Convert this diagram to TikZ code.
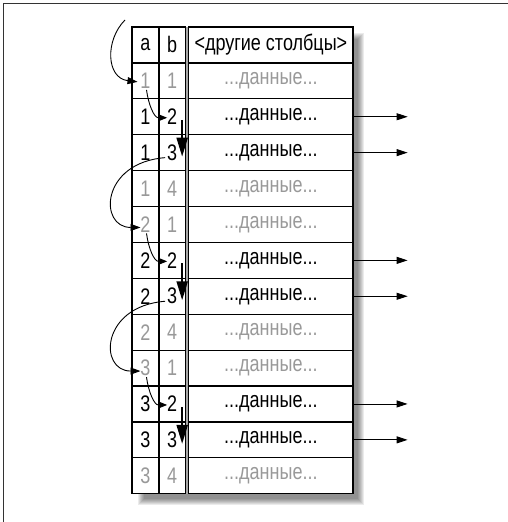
\documentclass[tikz,border=0pt]{standalone}
\usepackage{fontspec}
\setmainfont{Liberation Sans}[FakeStretch=0.8]
\usetikzlibrary{arrows.meta,calc}
\definecolor{dimgrey}{gray}{0.6}
\begin{document}
\begin{tikzpicture}[x=1pt,y=-1pt,
  cell/.style={draw, fill=white, line width=1.2pt, minimum height=35.9pt, inner sep=0pt,
    font=\fontsize{22.5}{24}\selectfont, anchor=center},
  acell/.style={cell, minimum width=27pt},
  bcell/.style={cell, minimum width=26.3pt},
  ocell/.style={cell, minimum width=164.3pt},
  outarrow/.style={line width=0.9pt, -{Triangle[length=11pt,width=7pt]}},
  downarrow/.style={line width=2.2pt, -{Triangle[length=19pt,width=11pt]}},
  smallcurve/.style={line width=0.9pt, -{Triangle[length=9pt,width=7pt]}},
  bigcurve/.style={line width=0.9pt, -{Triangle[length=10pt,width=7pt]}},
  frameline/.style={line width=1.8pt, black!80}]
\useasboundingbox (0,0) rectangle (508,522);
% frame (top and left)
\draw[frameline] (3.5,522) -- (3.5,3.5) -- (508,3.5);
% shadow
\foreach \k in {0,...,6}{
  \fill[black, opacity=0.08] (138+\k,33+\k) rectangle (364-\k,505-\k);
}
\fill[white] (132,27) rectangle (353,494);
\fill[black!35] (185.3,27) rectangle (188.7,494);
% header
\node[acell] (ah) at (145.5,44.95) {a};
\node[bcell] (bh) at (172.15,44.95) {b};
\node[ocell] (oh) at (270.85,44.95) {<другие столбцы>};
% rows
\foreach \i/\a/\b/\c in {1/1/1/dimgrey, 2/1/2/black, 3/1/3/black, 4/1/4/dimgrey,
  5/2/1/dimgrey, 6/2/2/black, 7/2/3/black, 8/2/4/dimgrey,
  9/3/1/dimgrey, 10/3/2/black, 11/3/3/black, 12/3/4/dimgrey}{
  \pgfmathsetmacro\y{27+35.9*(\i+0.5)}
  \node[acell, text=\c] (a\i) at (145.5,\y) {\a};
  \node[bcell, text=\c] (b\i) at (172.15,\y) {\b};
  \node[ocell, text=\c] (o\i) at (270.85,\y) {...данные...};
}
% outgoing arrows
\foreach \i in {2,3,6,7,10,11}{
  \coordinate (t\i) at ($(o\i.east)+(54,0)$);
  \draw[outarrow] (o\i.east) -- (t\i);
}
% top entry curve
\coordinate (entry) at (125,20);
\draw[bigcurve] (entry) .. controls (105,40) and (106,78) .. ($(a1.center)+(-8,1)$);
% within-group arrows
\foreach \s/\n/\m in {1/2/3, 5/6/7, 9/10/11}{
  \draw[smallcurve] ($(a\s.center)+(1,9)$) .. controls ($(a\s.center)+(3,24)$) and ($(b\n.center)+(-18,1)$) .. ($(b\n.center)+(-5,1)$);
  \draw[downarrow] ($(b\n.center)+(10,3)$) -- ($(b\m.center)+(10,4)$);
}
% between-group curves
\foreach \m/\s in {3/5, 7/9}{
  \draw[bigcurve] ($(b\m.center)+(-7,5)$) .. controls ($(a\m.center)+(-45,10)$) and ($(a\s.center)+(-47,3)$) .. ($(a\s.center)+(-5,3)$);
}
\end{tikzpicture}
\end{document}
